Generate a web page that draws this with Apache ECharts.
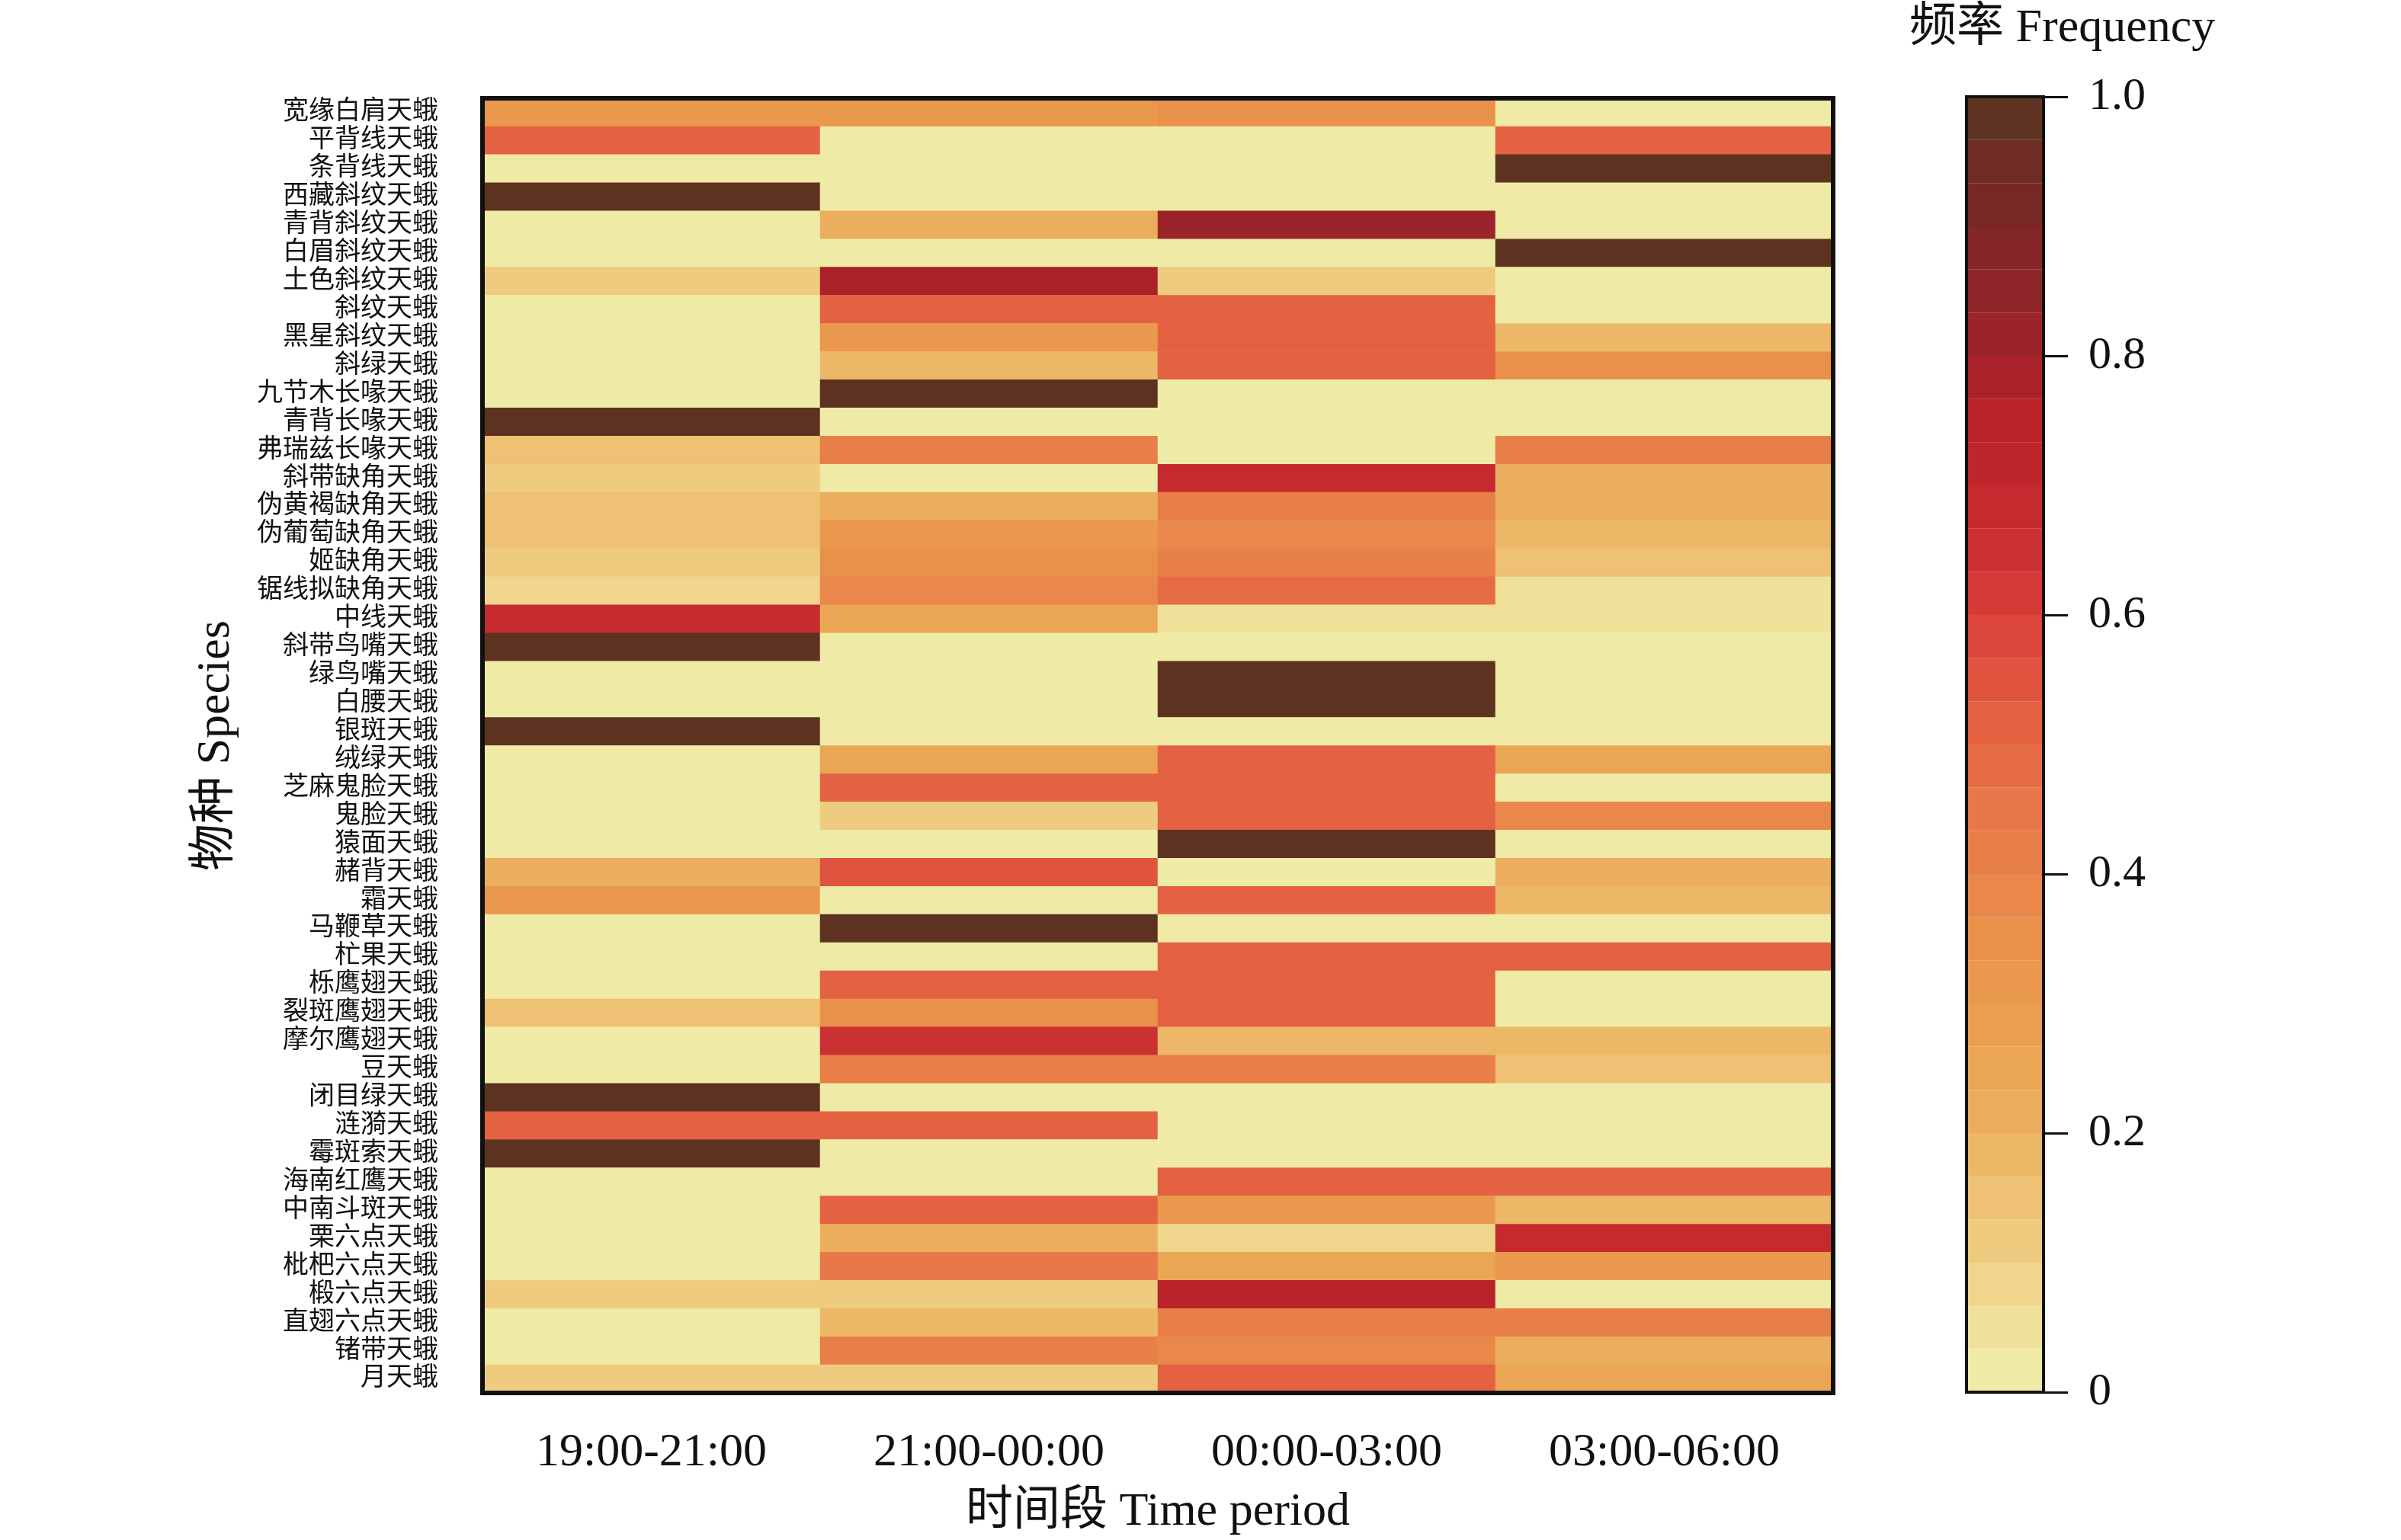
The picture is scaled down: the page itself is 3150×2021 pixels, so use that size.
<!DOCTYPE html>
<html><head><meta charset="utf-8">
<script src="https://cdn.jsdelivr.net/npm/echarts@6/dist/echarts.min.js"></script>
<style>html,body{margin:0;padding:0;background:#fff}#c{width:3150px;height:2021px}</style>
</head><body><div id="c"></div><script>
// ---- data ----
const periods = ['19:00-21:00', '21:00-00:00', '00:00-03:00', '03:00-06:00'];
const species = ['宽缘白肩天蛾','平背线天蛾','条背线天蛾','西藏斜纹天蛾','青背斜纹天蛾','白眉斜纹天蛾','土色斜纹天蛾','斜纹天蛾','黑星斜纹天蛾','斜绿天蛾',
  '九节木长喙天蛾','青背长喙天蛾','弗瑞兹长喙天蛾','斜带缺角天蛾','伪黄褐缺角天蛾','伪葡萄缺角天蛾','姬缺角天蛾','锯线拟缺角天蛾','中线天蛾','斜带鸟嘴天蛾',
  '绿鸟嘴天蛾','白腰天蛾','银斑天蛾','绒绿天蛾','芝麻鬼脸天蛾','鬼脸天蛾','猿面天蛾','赭背天蛾','霜天蛾','马鞭草天蛾',
  '杧果天蛾','栎鹰翅天蛾','裂斑鹰翅天蛾','摩尔鹰翅天蛾','豆天蛾','闭目绿天蛾','涟漪天蛾','霉斑索天蛾','海南红鹰天蛾','中南斗斑天蛾',
  '栗六点天蛾','枇杷六点天蛾','椴六点天蛾','直翅六点天蛾','锗带天蛾','月天蛾'];
// frequency per species (same order as species) for each time period
const freq1921 = [0.333,0.5,0,1,0,0,0.111,0,0,0, 0,1,0.143,0.111,0.15,0.15,0.12,0.08,0.667,1, 0,0,1,0,0,0,0,0.222,0.333,0, 0,0,0.14,0,0,1,0.5,1,0,0, 0,0,0.125,0,0,0.12];
const freq2100 = [0.333,0,0,0,0.2,0,0.778,0.5,0.333,0.167, 1,0,0.429,0,0.22,0.3,0.35,0.39,0.24,0, 0,0,0,0.25,0.5,0.12,0,0.556,0,1, 0,0.5,0.334,0.64,0.429,0,0.5,0,0,0.53, 0.22,0.45,0.125,0.17,0.42,0.12];
const freq0003 = [0.334,0,0,0,0.8,0,0.111,0.5,0.5,0.5, 0,0,0,0.667,0.41,0.37,0.41,0.47,0.045,0, 1,1,0,0.5,0.5,0.5,1,0,0.5,0, 0.5,0.5,0.53,0.18,0.429,0,0,0,0.5,0.3, 0.08,0.25,0.75,0.43,0.38,0.5];
const freq0306 = [0,0.5,1,0,0,1,0,0,0.167,0.334, 0,0,0.429,0.222,0.22,0.18,0.15,0.05,0.045,0, 0,0,0,0.25,0,0.38,0,0.222,0.167,0, 0.5,0,0,0.18,0.143,0,0,0,0.5,0.17, 0.69,0.3,0,0.4,0.2,0.26];
// 30-step colour scale (0 -> 1)
const palette = ['#EFEBA6','#F0E19A','#F0D68D','#EFCB80','#EEC174','#ECB868','#EBAE5E','#EBA654','#EA9F50','#EA984D',
  '#E9914B','#E9884A','#E87F49','#E8774A','#E66C45','#E46141','#E0533E','#DC4539','#D63A37','#CB3133',
  '#C42A2E','#BE262C','#B82228','#AA2229','#9A2429','#8F2529','#842527','#772726','#6E2C24','#5E3220'];
const cbTicks = [0, 0.2, 0.4, 0.6, 0.8, 1.0];

// ---- chart ----
const SERIF = "'Liberation Serif','Times New Roman','Noto Sans CJK SC',serif";
const INK = '#111';
const cols = [freq1921, freq2100, freq0003, freq0306];
const heatData = [];
cols.forEach((col, xi) => col.forEach((v, yi) => heatData.push([xi, yi, v])));
const N = palette.length;
const pieces = palette.map((c, k) => k === N - 1 ? {gte: k / N, lte: 1, color: c} : {gte: k / N, lt: (k + 1) / N, color: c});

const lineAxis = (w) => ({show: true, onZero: false, lineStyle: {color: INK, width: w, cap: 'square'}});

const chart = echarts.init(document.getElementById('c'), null, {renderer: 'canvas'});
chart.setOption({
  animation: false,
  backgroundColor: '#fff',
  title: {text: '频率 Frequency', left: 2500, top: 2,
    textStyle: {fontFamily: SERIF, fontSize: 62, fontWeight: 'normal', color: INK}},
  grid: [
    {left: 633, top: 129, width: 1772, height: 1700},
    {left: 2580, top: 127, width: 101, height: 1700}
  ],
  visualMap: {type: 'piecewise', show: false, seriesIndex: 0, dimension: 2, pieces: pieces},
  xAxis: [
    {type: 'category', gridIndex: 0, data: periods, position: 'bottom', z: 10,
      axisLine: lineAxis(6),
      axisTick: {alignWithLabel: true, length: 31, lineStyle: {color: INK, width: 5}},
      axisLabel: {fontSize: 62, fontFamily: SERIF, color: INK, margin: 48, interval: 0},
      splitLine: {show: false},
      name: '时间段 Time period', nameLocation: 'middle', nameGap: 126,
      nameTextStyle: {fontSize: 62, fontFamily: SERIF, color: INK}},
    {type: 'category', gridIndex: 0, data: periods, position: 'top', z: 10,
      axisLine: lineAxis(6), axisTick: {show: false}, axisLabel: {show: false}, splitLine: {show: false}},
    {type: 'category', gridIndex: 1, data: ['cb'], position: 'bottom', z: 10,
      axisLine: lineAxis(4), axisTick: {show: false}, axisLabel: {show: false}, splitLine: {show: false}},
    {type: 'category', gridIndex: 1, data: ['cb'], position: 'top', z: 10,
      axisLine: lineAxis(4), axisTick: {show: false}, axisLabel: {show: false}, splitLine: {show: false}}
  ],
  yAxis: [
    {type: 'category', gridIndex: 0, data: species, inverse: true, position: 'left', z: 10,
      axisLine: lineAxis(6),
      axisTick: {alignWithLabel: true, length: 31, lineStyle: {color: INK, width: 6}},
      axisLabel: {fontSize: 34, fontFamily: SERIF, color: INK, margin: 58, interval: 0},
      splitLine: {show: false},
      name: '物种 Species', nameLocation: 'middle', nameGap: 318, nameRotate: 90,
      nameTextStyle: {fontSize: 62, fontFamily: SERIF, color: INK}},
    {type: 'category', gridIndex: 0, data: species, inverse: true, position: 'right', z: 10,
      axisLine: lineAxis(6), axisTick: {show: false}, axisLabel: {show: false}, splitLine: {show: false}},
    {type: 'value', gridIndex: 1, min: cbTicks[0], max: cbTicks[cbTicks.length - 1], interval: 0.2, position: 'right', z: 10,
      axisLine: lineAxis(4),
      axisTick: {show: true, length: 32, lineStyle: {color: INK, width: 3}},
      axisLabel: {fontSize: 60, fontFamily: SERIF, color: INK, margin: 59,
        formatter: v => v === 0 ? '0' : v.toFixed(1)},
      splitLine: {show: false}},
    {type: 'value', gridIndex: 1, min: 0, max: 1, interval: 0.2, position: 'left', z: 10,
      axisLine: lineAxis(4), axisTick: {show: false}, axisLabel: {show: false}, splitLine: {show: false}}
  ],
  series: [
    {type: 'heatmap', xAxisIndex: 0, yAxisIndex: 0, data: heatData,
      itemStyle: {borderWidth: 0}, emphasis: {disabled: true}, silent: true}
  ].concat(palette.map((c) => ({
    type: 'bar', xAxisIndex: 2, yAxisIndex: 2, stack: 'cb', data: [1 / N],
    barWidth: '100%', itemStyle: {color: c}, silent: true
  })))
});
</script></body></html>
